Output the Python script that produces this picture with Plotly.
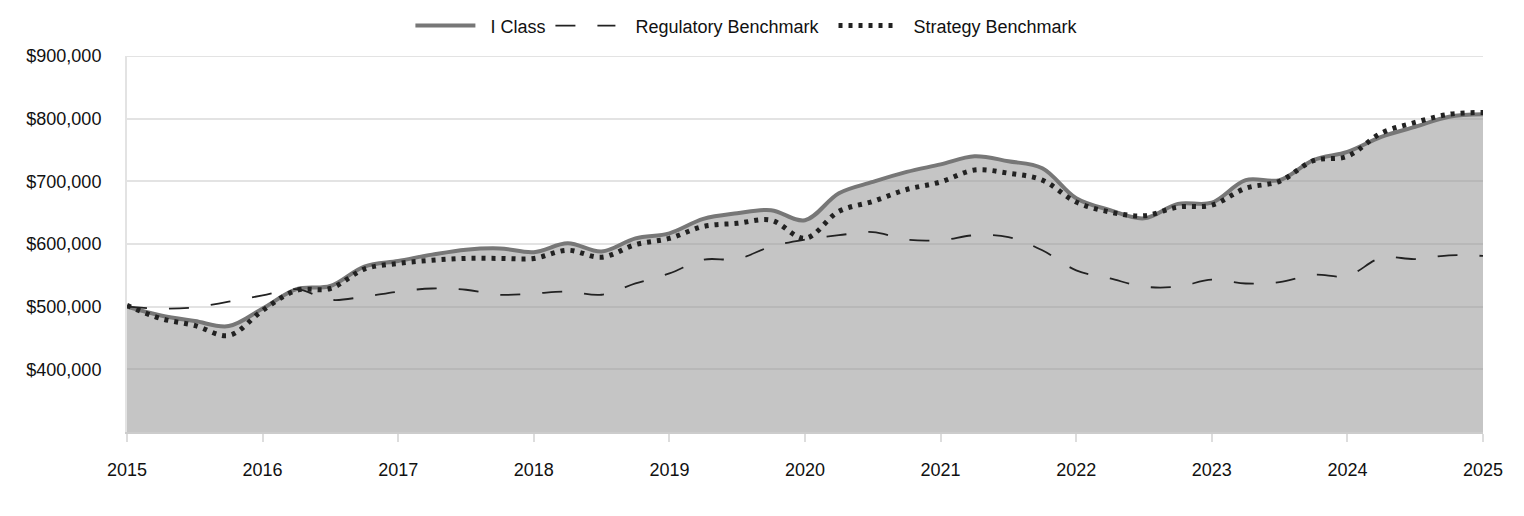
import plotly.graph_objects as go

# quarterly points, 2015 Q0 .. 2025 Q0
quarters = [2015 + i * 0.25 for i in range(41)]

i_class = [500, 486, 477, 469, 497, 528, 533, 564, 573, 583, 591, 593,
           587, 601, 588, 609, 617, 640, 649, 654, 638, 681, 699, 715,
           727, 740, 732, 721, 673, 654, 641, 664, 666, 702, 702, 734,
           747, 771, 787, 803, 807]
regulatory = [500, 497, 499, 508, 518, 528, 511, 516, 524, 529, 527, 519,
              521, 524, 519, 537, 553, 575, 576, 596, 607, 614, 619, 607,
              606, 614, 611, 590, 558, 545, 532, 532, 543, 537, 539, 551,
              549, 578, 576, 582, 581]
strategy = [502, 481, 470, 454, 494, 526, 529, 560, 569, 574, 577, 577,
            577, 590, 579, 599, 609, 628, 633, 638, 609, 652, 668, 687,
            699, 718, 713, 702, 667, 651, 645, 659, 662, 689, 700, 733,
            740, 777, 794, 807, 810]

year_ticks = list(range(2015, 2026))
y_ticks = [400000, 500000, 600000, 700000, 800000, 900000]

font = "Liberation Sans, Arial, sans-serif"
sp = "\u00a0"
grid = "#e3e3e3"

fig = go.Figure()

# shaded area under I Class (kept out of the legend)
fig.add_trace(go.Scatter(
    x=quarters, y=[v * 1000 for v in i_class], showlegend=False, hoverinfo="skip",
    mode="lines", line=dict(width=0, shape="spline"),
    fill="tozeroy", fillcolor="rgba(150,150,150,0.55)"))

fig.add_trace(go.Scatter(
    x=quarters, y=[v * 1000 for v in i_class], name=sp * 2 + "I Class",
    mode="lines", line=dict(color="#777777", width=4, shape="spline")))

fig.add_trace(go.Scatter(
    x=quarters, y=[v * 1000 for v in regulatory],
    name=sp * 3 + "Regulatory Benchmark" + sp * 2,
    mode="lines", line=dict(color="#222222", width=1.8, dash="20px,22px", shape="spline")))

fig.add_trace(go.Scatter(
    x=quarters, y=[v * 1000 for v in strategy], name=sp * 2 + "Strategy Benchmark",
    mode="lines", line=dict(color="#222222", width=5, dash="4px,6px", shape="spline")))

fig.update_layout(
    width=1524, height=516,
    margin=dict(l=119, r=49, t=48, b=92, autoexpand=False),
    paper_bgcolor="white", plot_bgcolor="white",
    font=dict(family=font, size=18, color="#111111"),
    showlegend=True,
    legend=dict(orientation="h", x=0.209, xanchor="left", y=1.08, yanchor="middle",
                itemwidth=60, font=dict(size=18), bgcolor="rgba(0,0,0,0)"),
)

fig.update_xaxes(
    range=[2015, 2025], tickvals=year_ticks, ticktext=[str(y) for y in year_ticks],
    showgrid=False, zeroline=False,
    showline=True, linecolor="#cccccc", linewidth=1.5,
    ticks="outside", ticklen=8, tickcolor="#dddddd", tickwidth=1.5,
    ticklabelstandoff=13,
)

fig.update_yaxes(
    range=[300000, 900000], tickvals=y_ticks, tickformat="$,.0f",
    showgrid=True, gridcolor=grid, gridwidth=2, zeroline=False,
    showline=True, linecolor=grid, linewidth=2,
    ticks="", ticklabelstandoff=20,
)

# top gridline sits on the plot edge, plotly skips it
fig.add_hline(y=y_ticks[-1], line_color=grid, line_width=2, layer="below")

fig.write_html("out.html")
